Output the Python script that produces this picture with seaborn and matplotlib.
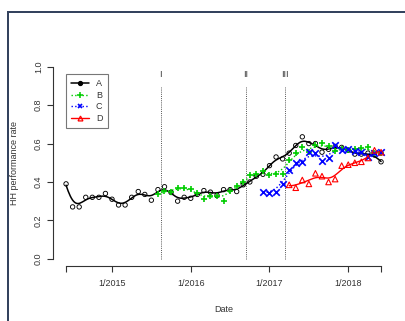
import numpy as np
import pandas as pd
import matplotlib
matplotlib.use("Agg")
import matplotlib.pyplot as plt
from matplotlib.lines import Line2D
from matplotlib.patches import Rectangle
import seaborn as sns

# Months counted from January 2015 (0 = 1/2015)
months_a = list(range(-7, 42))
rate_a = [0.39, 0.27, 0.27, 0.32, 0.32, 0.32, 0.34, 0.31, 0.28, 0.28,
          0.32, 0.35, 0.335, 0.305, 0.36, 0.375, 0.345, 0.30, 0.32, 0.315,
          0.335, 0.355, 0.347, 0.33, 0.36, 0.36, 0.35, 0.385, 0.40, 0.43,
          0.44, 0.485, 0.53, 0.52, 0.55, 0.59, 0.635, 0.60, 0.60, 0.555,
          0.57, 0.585, 0.58, 0.565, 0.545, 0.545, 0.55, 0.54, 0.505]

months_b = list(range(7, 42))
rate_b = [0.335, 0.355, 0.35, 0.37, 0.37, 0.365, 0.34, 0.31, 0.325, 0.325,
          0.30, 0.355, 0.38, 0.40, 0.435, 0.44, 0.455, 0.435, 0.44, 0.44,
          0.515, 0.55, 0.58, 0.555, 0.59, 0.605, 0.585, 0.56, 0.57, 0.565,
          0.57, 0.575, 0.58, 0.55, 0.55]

months_c = list(range(23, 42))
rate_c = [0.35, 0.34, 0.35, 0.39, 0.46, 0.50, 0.505, 0.555, 0.55, 0.51,
          0.525, 0.59, 0.565, 0.57, 0.56, 0.555, 0.53, 0.55, 0.555]

months_d = list(range(27, 42))
rate_d = [0.385, 0.37, 0.41, 0.39, 0.445, 0.43, 0.40, 0.415, 0.485, 0.49,
          0.50, 0.505, 0.525, 0.565, 0.555]

tick_months = [-7, 0, 12, 24, 36, 41]
tick_labels = ["", "1/2015", "1/2016", "1/2017", "1/2018", ""]

event_months = [7.4, 20.4, 26.3]
event_labels = ["I", "II", "III"]

series_names = ["A", "B", "C", "D"]
colors = {"A": "black", "B": "#00CD00", "C": "#0000FF", "D": "#FF0000"}
markers = {"A": "o", "B": "+", "C": "x", "D": "^"}
line_styles = {"A": "-", "B": ":", "C": ":", "D": "-"}
bandwidths = {"A": 0.9, "B": 1.2, "C": 1.2, "D": 1.1}


def local_linear(x, y, bw, n=300):
    x = np.asarray(x, float)
    y = np.asarray(y, float)
    grid = np.linspace(x.min(), x.max(), n)
    out = []
    for g in grid:
        w = np.exp(-0.5 * ((x - g) / bw) ** 2)
        xm = np.sum(w * x) / np.sum(w)
        ym = np.sum(w * y) / np.sum(w)
        sxx = np.sum(w * (x - xm) ** 2)
        b = np.sum(w * (x - xm) * (y - ym)) / sxx if sxx > 0 else 0.0
        out.append(ym + b * (g - xm))
    return grid, np.array(out)


points = pd.concat([
    pd.DataFrame({"month": months_a, "rate": rate_a, "group": "A"}),
    pd.DataFrame({"month": months_b, "rate": rate_b, "group": "B"}),
    pd.DataFrame({"month": months_c, "rate": rate_c, "group": "C"}),
    pd.DataFrame({"month": months_d, "rate": rate_d, "group": "D"}),
], ignore_index=True)

sns.set_theme(style="white")
plt.rcParams["font.family"] = ["Liberation Sans", "DejaVu Sans"]
plt.rcParams["font.size"] = 6.5

fig = plt.figure(figsize=(4.05, 3.21), dpi=100)
ax = fig.add_axes([0.132, 0.170, 0.840, 0.646])

# smoothed trend per group
for name in series_names:
    sub = points[points["group"] == name]
    gx, gy = local_linear(sub["month"], sub["rate"], bw=bandwidths[name])
    sns.lineplot(x=gx, y=gy, ax=ax, color=colors[name],
                 linestyle=line_styles[name], linewidth=1.1 if name == "A" else 1.0,
                 estimator=None, sort=False, zorder=3)

# monthly observations
for name in series_names:
    sub = points[points["group"] == name]
    if name == "A":
        kw = dict(marker="o", s=10, facecolor="none", edgecolor="black", linewidth=0.65)
    elif name == "D":
        kw = dict(marker="^", s=16, facecolor="none", edgecolor=colors[name], linewidth=0.8)
    else:
        kw = dict(marker=markers[name], s=22, color=colors[name], linewidth=1.2)
    sns.scatterplot(data=sub, x="month", y="rate", ax=ax, legend=False, zorder=4, **kw)

# event markers
for m, lab in zip(event_months, event_labels):
    ax.plot([m, m], [0.0, 0.895], color="#555555", linestyle=(0, (1, 1.2)),
            linewidth=0.7, zorder=2)
    ax.text(m, 0.96, lab, ha="center", va="center", fontsize=6.5, color="#333333")

ax.set_xlim(-8.92, 42.92)
ax.set_ylim(-0.04, 1.04)
ax.set_xticks(tick_months)
ax.set_xticklabels(tick_labels)
ax.set_yticks([0.0, 0.2, 0.4, 0.6, 0.8, 1.0])
ax.set_yticklabels(["0.0", "0.2", "0.4", "0.6", "0.8", "1.0"], rotation=90, va="center")

for side in ["top", "right"]:
    ax.spines[side].set_visible(False)
ax.spines["left"].set_bounds(0.0, 1.0)
ax.spines["bottom"].set_bounds(-7, 41)
for side in ["left", "bottom"]:
    ax.spines[side].set_color("#333333")
    ax.spines[side].set_linewidth(0.8)
ax.tick_params(axis="both", which="major", bottom=True, left=True, direction="out",
               length=4, width=0.8, colors="#333333", labelcolor="#333333", labelsize=6.5)
ax.tick_params(axis="y", pad=3.5)
ax.tick_params(axis="x", pad=5)
ax.grid(False)

ax.set_xlabel("Date", fontsize=6.5, color="#333333")
ax.set_ylabel("HH performance rate", fontsize=6.5, color="#333333")
ax.xaxis.set_label_coords(0.5, -0.185)
ax.yaxis.set_label_coords(-0.1, 0.5)

handles = [
    Line2D([], [], color="black", linestyle="-", marker="o", markersize=2.8, linewidth=1.1),
    Line2D([], [], color=colors["B"], linestyle=":", marker="+", markersize=4.5,
           markeredgewidth=1.1, linewidth=1.0),
    Line2D([], [], color=colors["C"], linestyle=":", marker="x", markersize=3.5,
           markeredgewidth=1.2, linewidth=1.0),
    Line2D([], [], color=colors["D"], linestyle="-", marker="^", markersize=3.5,
           markerfacecolor="none", markeredgewidth=0.9, linewidth=1.0),
]
leg = ax.legend(handles, series_names, loc="upper left",
                bbox_to_anchor=(66 / 405, 1 - 74 / 321), bbox_transform=fig.transFigure,
                fontsize=6.5, frameon=True, fancybox=False, borderaxespad=0,
                handlelength=2.0, handletextpad=0.7, labelspacing=0.28, borderpad=0.6)
leg.get_frame().set_edgecolor("#555555")
leg.get_frame().set_linewidth(0.8)
for t in leg.get_texts():
    t.set_color("#333333")

# page frame edges
frame_color = "#34435e"
fig.add_artist(Rectangle((7 / 405, 0), 2 / 405, 1 - 10.5 / 321,
                         transform=fig.transFigure, color=frame_color, lw=0))
fig.add_artist(Rectangle((7 / 405, 1 - 12.5 / 321), 1 - 7 / 405, 2 / 321,
                         transform=fig.transFigure, color=frame_color, lw=0))

fig.savefig("out.png", dpi=100)
